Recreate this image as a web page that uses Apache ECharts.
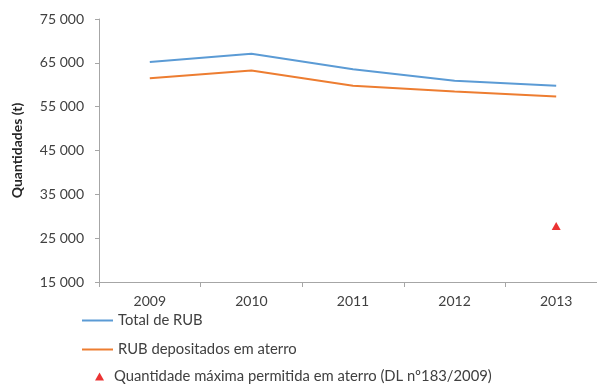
<!DOCTYPE html>
<html>
<head>
<meta charset="utf-8">
<script src="https://cdn.jsdelivr.net/npm/echarts@6/dist/echarts.min.js"></script>
<style>
  html, body { margin: 0; padding: 0; background: #fff; overflow: hidden; }
  #chart { width: 612px; height: 385px; }
</style>
</head>
<body>
<div id="chart"></div>
<script>
// Anos
const years = ['2009', '2010', '2011', '2012', '2013'];
// Total de RUB produzidos (t)
const totalRUB = [65200, 67050, 63550, 60900, 59750];
// RUB depositados em aterro (t)
const rubAterro = [61500, 63250, 59750, 58450, 57300];
// Quantidade máxima permitida em aterro (t), apenas para 2013
const maxAterro = [null, null, null, null, 27800];

const seriesNames = [
  'Total de RUB',
  'RUB depositados em aterro',
  'Quantidade máxima permitida em aterro (DL nº183/2009)'
];

const fontFamily = 'Lato, "Open Sans", sans-serif';
const textColor = '#404040';

function fmt(v) {
  return String(v).replace(/\B(?=(\d{3})+(?!\d))/g, ' ');
}

const chart = echarts.init(document.getElementById('chart'), null, { renderer: 'canvas' });
chart.setOption({
  animation: false,
  backgroundColor: '#ffffff',
  textStyle: { fontFamily: fontFamily, color: textColor },
  grid: { left: 99, top: 19, width: 508, height: 263, containLabel: false },
  legend: [
    {
      // linhas: ícone em forma de traço fino
      orient: 'vertical',
      left: 82,
      top: 313,
      padding: 0,
      itemWidth: 31,
      itemHeight: 2,
      itemGap: 14,
      icon: 'rect',
      data: [
        { name: seriesNames[0], itemStyle: { color: '#5b9bd5' } },
        { name: seriesNames[1], itemStyle: { color: '#ed7d31' } }
      ],
      textStyle: { fontSize: 14.8, lineHeight: 14, color: textColor, fontFamily: fontFamily },
      selectedMode: false
    },
    {
      orient: 'vertical',
      left: 95,
      top: 369,
      padding: 0,
      itemWidth: 9,
      itemHeight: 8,
      icon: 'triangle',
      data: [seriesNames[2]],
      textStyle: { fontSize: 14.8, lineHeight: 14, color: textColor, fontFamily: fontFamily, padding: [0, 0, 0, 5] },
      selectedMode: false
    }
  ],
  xAxis: {
    type: 'category',
    data: years,
    boundaryGap: true,
    axisLine: { lineStyle: { color: '#a6a6a6', width: 1 } },
    axisTick: { show: true, length: 5, lineStyle: { color: '#a6a6a6' }, alignWithLabel: false },
    axisLabel: { fontSize: 14, color: textColor, margin: 12, fontFamily: fontFamily },
    splitLine: { show: false }
  },
  yAxis: {
    type: 'value',
    min: 15000,
    max: 75000,
    interval: 10000,
    name: 'Quantidades (t)',
    nameLocation: 'middle',
    nameRotate: 90,
    nameGap: 75,
    nameTextStyle: { fontSize: 14, fontWeight: 'bold', color: '#262626', fontFamily: fontFamily },
    axisLine: { show: true, lineStyle: { color: '#a6a6a6', width: 1 } },
    axisTick: { show: true, length: 4, lineStyle: { color: '#a6a6a6' } },
    axisLabel: { fontSize: 14, color: textColor, margin: 15, formatter: fmt, fontFamily: fontFamily },
    splitLine: { show: false }
  },
  series: [
    {
      name: seriesNames[0],
      type: 'line',
      data: totalRUB,
      symbol: 'none',
      color: '#5b9bd5',
      lineStyle: { width: 2, color: '#5b9bd5' }
    },
    {
      name: seriesNames[1],
      type: 'line',
      data: rubAterro,
      symbol: 'none',
      color: '#ed7d31',
      lineStyle: { width: 2, color: '#ed7d31' }
    },
    {
      name: seriesNames[2],
      type: 'scatter',
      data: maxAterro,
      symbol: 'triangle',
      symbolSize: [9, 8],
      itemStyle: { color: '#e60000' }
    }
  ]
});
</script>
</body>
</html>
